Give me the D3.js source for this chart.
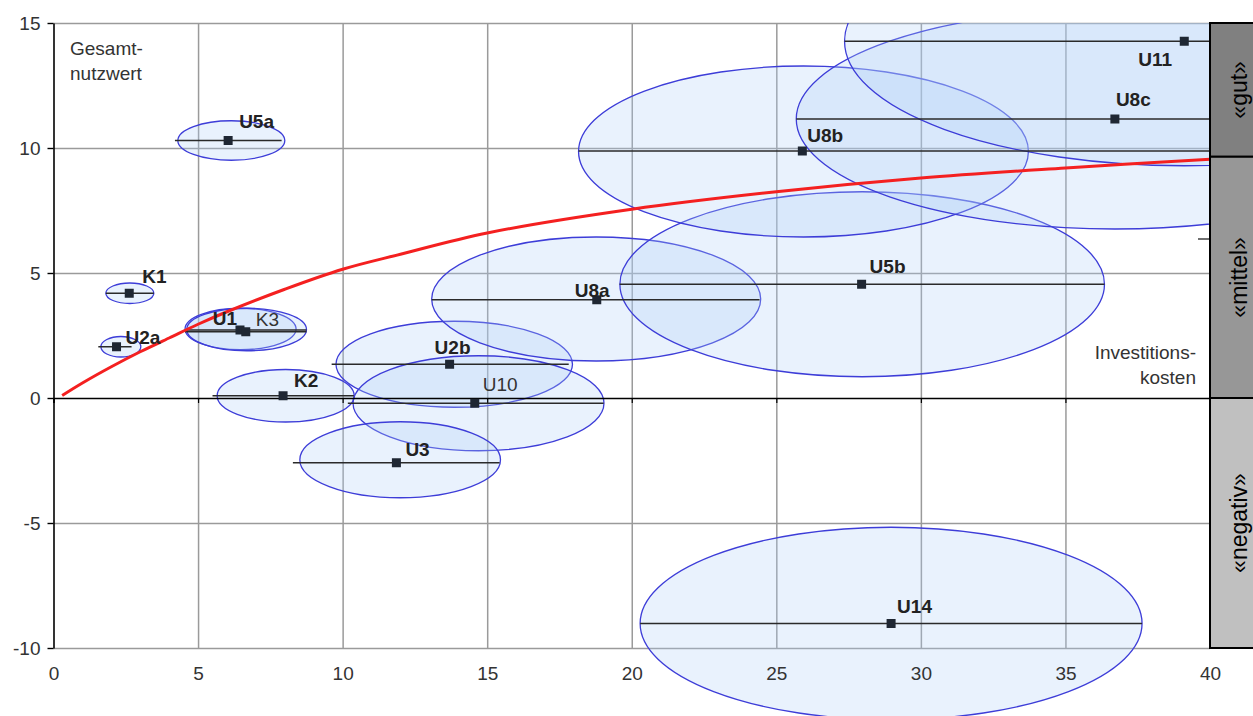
<!DOCTYPE html>
<html>
<head>
<meta charset="utf-8">
<script src="https://cdn.jsdelivr.net/npm/d3@7"></script>
<style>
  html, body { margin: 0; padding: 0; background: #fff; }
  svg { display: block; font-family: "Liberation Sans", Arial, sans-serif; }
</style>
</head>
<body>
<svg id="chart" width="1253" height="716"></svg>
<script>
// ---------------- DATA ----------------
const names    = ["U5a","K1","U2a","U1","K3","K2","U2b","U10","U3","U8a","U5b","U8b","U8c","U11","U14"];
const costs    = [6.04, 2.62, 2.18, 6.45, 6.65, 7.94, 13.7, 14.57, 11.86, 18.79, 27.95, 25.9, 36.71, 39.11, 28.97];
const benefits = [10.3, 4.19, 2.05, 2.72, 2.65, 0.09, 1.35, -0.21, -2.59, 3.93, 4.55, 9.88, 11.16, 14.27, -9.02];
// uncertainty ellipses (centre, half-widths in data units)
const ellipseCx = [6.15, 2.64, 2.33, 6.47, 6.68, 8.03, 13.86, 14.7, 11.99, 18.77, 27.97, 25.94, 36.71, 39.11, 28.97];
const ellipseCy = [10.3, 4.19, 2.05, 2.76, 2.74, 0.09, 1.35, -0.21, -2.47, 3.96, 4.55, 9.86, 11.16, 14.27, -9.02];
const ellipseRx = [1.85, 0.83, 0.69, 1.92, 2.07, 2.37, 4.09, 4.34, 3.47, 5.69, 8.38, 7.78, 11.02, 11.75, 8.68];
const ellipseRy = [0.79, 0.41, 0.41, 0.83, 0.85, 1.05, 1.72, 1.9, 1.52, 2.48, 3.7, 3.42, 4.4, 4.98, 3.85];
// cost ranges (horizontal bars)
const rangeLow  = [4.2, 1.81, 1.55, 4.55, 4.55, 5.5, 9.62, 10.18, 8.28, 13.08, 19.58, 18.16, 25.69, 27.36, 20.29];
const rangeHigh = [7.89, 3.47, 2.7, 8.75, 8.75, 10.39, 17.82, 19.03, 15.43, 24.42, 36.35, 40, 40, 40, 37.65];
// red threshold curve
const curveX = [0.3, 1, 2, 3, 4, 5, 6, 8, 10, 12, 15, 20, 25, 30, 35, 40];
const curveY = [0.1, 0.6, 1.25, 1.85, 2.4, 2.95, 3.45, 4.35, 5.15, 5.75, 6.6, 7.55, 8.25, 8.8, 9.2, 9.55];
// axis ticks
const xTicks = [0, 5, 10, 15, 20, 25, 30, 35, 40];
const yTicks = [-10, -5, 0, 5, 10, 15];
// rating bands
const bandLabels = ["«gut»", "«mittel»", "«negativ»"];
const bandTop    = [15, 9.65, 0];
const bandBottom = [9.65, 0, -10];
const yAxisTitle = ["Gesamt-", "nutzwert"];
const xAxisTitle = ["Investitions-", "kosten"];
const extraTick = 6.36;

// ---------------- LAYOUT ----------------
const svg = d3.select("#chart");
const L = 53.5, R = 1210, T = 23, B = 648;
const x = d3.scaleLinear().domain([0, 40]).range([L, R]);
const y = d3.scaleLinear().domain([-10, 15]).range([B, T]);
const fmt = d => String(d);

const labelLayout = {
  U5a: [11, -13, "start"], K1: [13, -10, "start"], U2a: [9, -3, "start"],
  U1: [-3, -5, "end"], K3: [10, -6, "start"], K2: [11, -9, "start"],
  U2b: [-15, -10, "start"], U10: [8, -12, "start"], U3: [9, -7, "start"],
  U8a: [-22, -3, "start"], U5b: [8, -11, "start"], U8b: [5, -9, "start"],
  U8c: [1, -13, "start"], U11: [-46, 25, "start"], U14: [6, -11, "start"]
};
const lightLabels = new Set(["K3", "U10"]);

const items = names.map((n, i) => ({
  name: n, cost: costs[i], benefit: benefits[i],
  cx: ellipseCx[i], cy: ellipseCy[i], rx: ellipseRx[i], ry: ellipseRy[i],
  lo: rangeLow[i], hi: rangeHigh[i]
}));

// clip
svg.append("defs").append("clipPath").attr("id", "plotClip")
  .append("rect").attr("x", L).attr("y", T).attr("width", R - L).attr("height", 716 - T);

// gridlines
const grid = svg.append("g");
grid.append("g").attr("transform", `translate(0,${B})`)
  .call(d3.axisBottom(x).tickValues(xTicks.filter(d => d > 0 && d < 40)).tickSize(-(B - T)).tickFormat(""))
  .call(g => g.select(".domain").remove())
  .call(g => g.selectAll("line").attr("stroke", "#9a9a9a").attr("stroke-width", 1.5));
grid.append("g").attr("transform", `translate(${L},0)`)
  .call(d3.axisRight(y).tickValues(yTicks.filter(d => d !== 0)).tickSize(R - L).tickFormat(""))
  .call(g => g.select(".domain").remove())
  .call(g => g.selectAll("line").attr("stroke", "#9a9a9a").attr("stroke-width", 1.5));

// ellipses
const eg = svg.append("g").attr("clip-path", "url(#plotClip)");
eg.selectAll("ellipse").data(items).join("ellipse")
  .attr("cx", d => x(d.cx)).attr("cy", d => y(d.cy))
  .attr("rx", d => x(d.cx + d.rx) - x(d.cx))
  .attr("ry", d => y(d.cy - d.ry) - y(d.cy))
  .attr("fill", "#acd0f6").attr("fill-opacity", 0.27)
  .attr("stroke", "#3d3dd8").attr("stroke-width", 1.3);

// zero axis with small ticks
svg.append("g").attr("transform", `translate(0,${y(0)})`)
  .call(d3.axisBottom(x).tickValues(xTicks).tickSize(5).tickFormat(""))
  .call(g => g.select(".domain").attr("stroke", "#000").attr("stroke-width", 1.6))
  .call(g => g.selectAll(".tick line").attr("stroke", "#000").attr("stroke-width", 1.2));

// Y axis
svg.append("g").attr("transform", `translate(${L},0)`)
  .call(d3.axisLeft(y).tickValues(yTicks).tickSize(6).tickPadding(7).tickSizeOuter(0).tickFormat(fmt))
  .call(g => g.select(".domain").attr("stroke", "#000").attr("stroke-width", 1.6))
  .call(g => g.selectAll(".tick line").attr("stroke", "#000").attr("stroke-width", 1.4))
  .call(g => g.selectAll("text").attr("font-size", 19).attr("fill", "#333")
    .attr("font-family", "Liberation Sans, Arial, sans-serif"));

// X axis labels
svg.append("g").attr("transform", `translate(0,${B})`)
  .call(d3.axisBottom(x).tickValues(xTicks).tickSize(0).tickPadding(19).tickFormat(fmt))
  .call(g => g.select(".domain").remove())
  .call(g => g.selectAll("text").attr("font-size", 19).attr("fill", "#333")
    .attr("font-family", "Liberation Sans, Arial, sans-serif"));

// range lines
const rg = svg.append("g").attr("clip-path", "url(#plotClip)");
rg.selectAll("line").data(items).join("line")
  .attr("x1", d => x(d.lo)).attr("x2", d => x(d.hi))
  .attr("y1", d => y(d.benefit)).attr("y2", d => y(d.benefit))
  .attr("stroke", "#2a2a2a").attr("stroke-width", 1.6);

// red curve
svg.append("path")
  .datum(curveX.map((cx, i) => [cx, curveY[i]]))
  .attr("d", d3.line().x(d => x(d[0])).y(d => y(d[1])).curve(d3.curveCatmullRom))
  .attr("fill", "none").attr("stroke", "#f42020").attr("stroke-width", 3);

// markers
svg.append("g").selectAll("rect").data(items).join("rect")
  .attr("x", d => x(d.cost) - 4.5).attr("y", d => y(d.benefit) - 4.5)
  .attr("width", 9).attr("height", 9).attr("fill", "#1f2733");

// labels
svg.append("g").selectAll("text").data(items).join("text")
  .attr("x", d => x(d.cost) + labelLayout[d.name][0])
  .attr("y", d => y(d.benefit) + labelLayout[d.name][1])
  .attr("text-anchor", d => labelLayout[d.name][2])
  .attr("font-size", 19).attr("font-weight", d => lightLabels.has(d.name) ? "normal" : "bold")
  .attr("fill", d => lightLabels.has(d.name) ? "#333" : "#222")
  .text(d => d.name);

// axis titles
svg.append("g").selectAll("text").data(yAxisTitle).join("text")
  .attr("x", 70).attr("y", (d, i) => 55 + i * 25)
  .attr("font-size", 19).attr("fill", "#333").text(d => d);
svg.append("g").selectAll("text").data(xAxisTitle).join("text")
  .attr("x", 1196).attr("y", (d, i) => 359 + i * 25).attr("text-anchor", "end")
  .attr("font-size", 19).attr("fill", "#333").text(d => d);

// stray tick near right edge
svg.append("line").attr("x1", R - 12).attr("x2", R).attr("y1", y(extraTick)).attr("y2", y(extraTick))
  .attr("stroke", "#333").attr("stroke-width", 1.4);

// rating bands
const bandFill = ["#808080", "#979797", "#c0c0c0"];
const bg = svg.append("g");
bandLabels.forEach((lab, i) => {
  bg.append("rect").attr("x", R).attr("y", y(bandTop[i]))
    .attr("width", 60).attr("height", y(bandBottom[i]) - y(bandTop[i]))
    .attr("fill", bandFill[i]).attr("stroke", "#000").attr("stroke-width", 2);
  const cy = (y(bandTop[i]) + y(bandBottom[i])) / 2;
  bg.append("text").attr("transform", `translate(1239,${cy}) rotate(-90)`)
    .attr("text-anchor", "middle").attr("dominant-baseline", "central")
    .attr("font-size", 23).attr("fill", "#000").text(lab);
});
</script>
</body>
</html>
